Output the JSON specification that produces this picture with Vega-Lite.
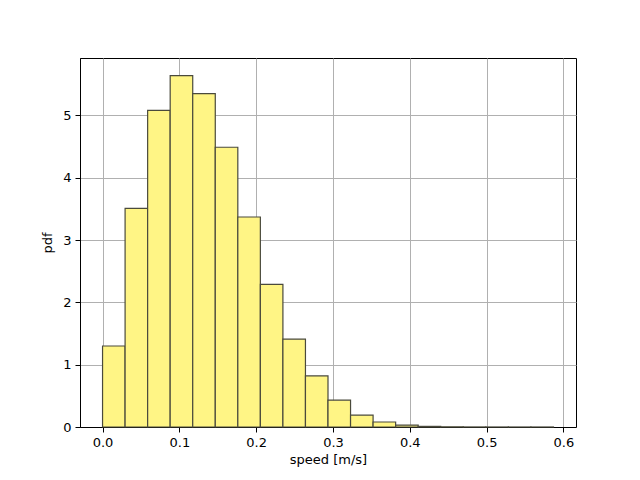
{
  "$schema": "https://vega.github.io/schema/vega-lite/v6.json",
  "autosize": "none",
  "width": 496,
  "height": 369,
  "padding": {"left": 80, "top": 58, "right": 64, "bottom": 53},
  "background": "white",
  "config": {
    "font": "DejaVu Sans",
    "view": {"stroke": "black", "strokeWidth": 1},
    "axis": {
      "labelFont": "DejaVu Sans",
      "titleFont": "DejaVu Sans",
      "labelFontSize": 13,
      "titleFontSize": 13,
      "titleFontWeight": "normal",
      "labelColor": "black",
      "titleColor": "black",
      "domainColor": "black",
      "tickColor": "black",
      "tickSize": 5,
      "grid": true,
      "gridColor": "#b0b0b0",
      "gridWidth": 1
    }
  },
  "data": {
    "values": [
      {"bin_start": 0.0, "bin_end": 0.02935, "pdf": 1.30},
      {"bin_start": 0.02935, "bin_end": 0.0587, "pdf": 3.51},
      {"bin_start": 0.0587, "bin_end": 0.08805, "pdf": 5.08},
      {"bin_start": 0.08805, "bin_end": 0.1174, "pdf": 5.64},
      {"bin_start": 0.1174, "bin_end": 0.14675, "pdf": 5.35},
      {"bin_start": 0.14675, "bin_end": 0.1761, "pdf": 4.49},
      {"bin_start": 0.1761, "bin_end": 0.20545, "pdf": 3.37},
      {"bin_start": 0.20545, "bin_end": 0.2348, "pdf": 2.29},
      {"bin_start": 0.2348, "bin_end": 0.26415, "pdf": 1.41},
      {"bin_start": 0.26415, "bin_end": 0.2935, "pdf": 0.82},
      {"bin_start": 0.2935, "bin_end": 0.32285, "pdf": 0.43},
      {"bin_start": 0.32285, "bin_end": 0.3522, "pdf": 0.19},
      {"bin_start": 0.3522, "bin_end": 0.38155, "pdf": 0.08},
      {"bin_start": 0.38155, "bin_end": 0.4109, "pdf": 0.03},
      {"bin_start": 0.4109, "bin_end": 0.44025, "pdf": 0.01},
      {"bin_start": 0.44025, "bin_end": 0.4696, "pdf": 0.003},
      {"bin_start": 0.4696, "bin_end": 0.49895, "pdf": 0.001},
      {"bin_start": 0.49895, "bin_end": 0.5283, "pdf": 0.0005},
      {"bin_start": 0.5283, "bin_end": 0.55765, "pdf": 0.0003},
      {"bin_start": 0.55765, "bin_end": 0.587, "pdf": 0.0003}
    ]
  },
  "mark": {"type": "rect", "fill": "#fff585", "stroke": "#4a4a3c", "strokeWidth": 1.2},
  "encoding": {
    "x": {
      "field": "bin_start",
      "type": "quantitative",
      "scale": {"domain": [-0.02935, 0.61635], "nice": false, "zero": false},
      "axis": {"title": "speed [m/s]", "values": [0, 0.1, 0.2, 0.3, 0.4, 0.5, 0.6], "format": ".1f", "labelPadding": 4, "titlePadding": 4}
    },
    "x2": {"field": "bin_end"},
    "y": {
      "field": "pdf",
      "type": "quantitative",
      "scale": {"domain": [0, 5.922], "nice": false},
      "axis": {"title": "pdf", "values": [0, 1, 2, 3, 4, 5], "format": "d", "labelPadding": 4, "titlePadding": 8}
    },
    "y2": {"datum": 0}
  }
}
